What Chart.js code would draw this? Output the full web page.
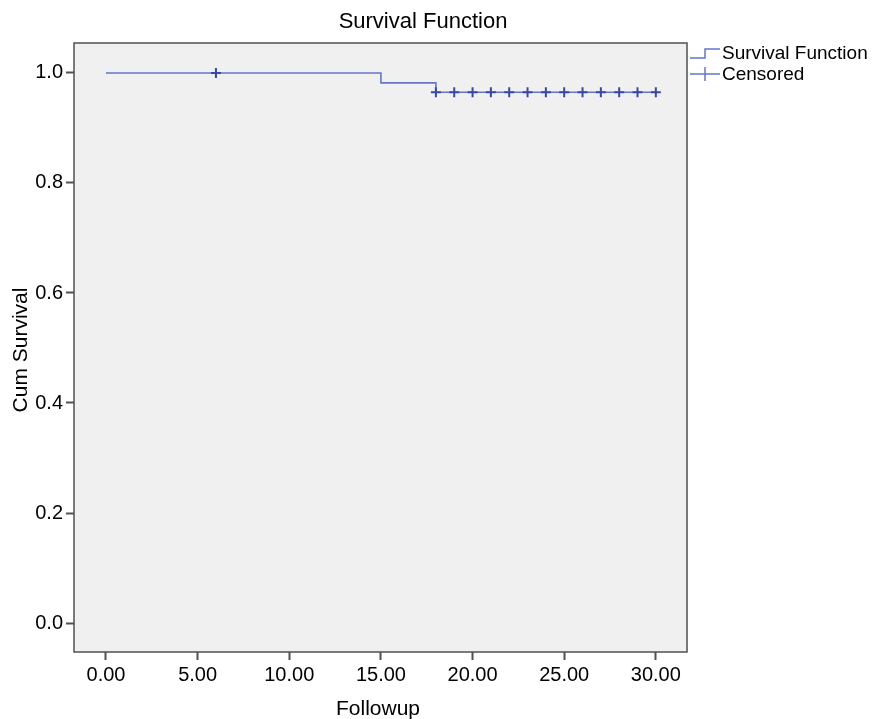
<!DOCTYPE html>
<html>
<head>
<meta charset="utf-8">
<script src="https://cdn.jsdelivr.net/npm/chart.js@4/dist/chart.umd.min.js"></script>
<style>
html,body{margin:0;padding:0;background:#fff;}
#wrap{width:885px;height:719px;position:relative;}
</style>
</head>
<body>
<div id="wrap"><canvas id="c" width="885" height="719"></canvas></div>
<script>
// Data
const survivalTimes = [0, 15, 18, 30];
const survivalValues = [1.0, 0.982, 0.965, 0.965];
const censoredTimes = [6, 18, 19, 20, 21, 22, 23, 24, 25, 26, 27, 28, 29, 30];
const censoredValues = [1.0, 0.965, 0.965, 0.965, 0.965, 0.965, 0.965, 0.965, 0.965, 0.965, 0.965, 0.965, 0.965, 0.965];
const xTicks = [0, 5, 10, 15, 20, 25, 30];
const yTicks = [0.0, 0.2, 0.4, 0.6, 0.8, 1.0];
const titleText = 'Survival Function';
const xTitle = 'Followup';
const yTitle = 'Cum Survival';
const legendLabels = ['Survival Function', 'Censored'];

const lineColor = 'rgb(100,118,200)';
const markColor = 'rgb(55,72,165)';
const FONT = 'Liberation Sans, Arial, sans-serif';

const survivalData = survivalTimes.map((t, i) => ({x: t, y: survivalValues[i]}));
const censoredData = censoredTimes.map((t, i) => ({x: t, y: censoredValues[i]}));

const decor = {
  id: 'decor',
  beforeDraw(chart) {
    const {ctx, chartArea: a} = chart;
    ctx.save();
    ctx.fillStyle = '#f0f0f0';
    ctx.fillRect(a.left, a.top, a.right - a.left, a.bottom - a.top);
    ctx.restore();
  },
  afterDraw(chart) {
    const {ctx, chartArea: a} = chart;
    ctx.save();
    ctx.strokeStyle = '#505050';
    ctx.lineWidth = 1.5;
    ctx.strokeRect(a.left, a.top, a.right - a.left, a.bottom - a.top);
    // title
    ctx.fillStyle = '#000';
    ctx.font = '22px ' + FONT;
    ctx.textAlign = 'center';
    ctx.textBaseline = 'middle';
    ctx.fillText(titleText, 423, 22);
    // x title
    ctx.font = '21px ' + FONT;
    ctx.fillText(xTitle, 378, 709);
    // y title
    ctx.save();
    ctx.translate(21, 350);
    ctx.rotate(-Math.PI / 2);
    ctx.fillText(yTitle, 0, 0);
    ctx.restore();
    // legend
    ctx.strokeStyle = lineColor;
    ctx.lineWidth = 1.5;
    ctx.beginPath();
    ctx.moveTo(690, 58); ctx.lineTo(705, 58); ctx.lineTo(705, 49); ctx.lineTo(720, 49);
    ctx.stroke();
    ctx.beginPath();
    ctx.moveTo(690, 74); ctx.lineTo(720, 74);
    ctx.stroke();
    ctx.beginPath();
    ctx.moveTo(705, 67); ctx.lineTo(705, 81);
    ctx.stroke();
    ctx.fillStyle = '#000';
    ctx.font = '19px ' + FONT;
    ctx.textAlign = 'left';
    ctx.fillText(legendLabels[0], 722, 54);
    ctx.fillText(legendLabels[1], 722, 75);
    ctx.restore();
  }
};

new Chart(document.getElementById('c'), {
  type: 'scatter',
  data: {
    datasets: [
      {
        type: 'line',
        label: legendLabels[0],
        data: survivalData,
        stepped: 'before',
        borderColor: lineColor,
        borderWidth: 1.6,
        pointRadius: 0,
        fill: false,
        order: 2
      },
      {
        type: 'scatter',
        label: legendLabels[1],
        data: censoredData,
        pointStyle: 'cross',
        pointRadius: 5,
        borderColor: markColor,
        backgroundColor: markColor,
        borderWidth: 2,
        order: 1
      }
    ]
  },
  options: {
    responsive: false,
    animation: false,
    layout: {padding: {left: 0, top: 43, right: 198, bottom: 0}},
    plugins: {legend: {display: false}, tooltip: {enabled: false}, title: {display: false}},
    scales: {
      x: {
        type: 'linear',
        min: -1.745,
        max: 31.7,
        afterBuildTicks(s) { s.ticks = xTicks.map(v => ({value: v})); },
        afterFit(s) { s.height = 67; },
        border: {display: false},
        grid: {display: true, drawOnChartArea: false, drawTicks: true, tickLength: 8, tickWidth: 2, tickColor: '#505050'},
        ticks: {color: '#000', font: {size: 20, family: FONT}, padding: 3, maxRotation: 0, callback: v => v.toFixed(2)}
      },
      y: {
        type: 'linear',
        min: -0.0527,
        max: 1.0545,
        afterBuildTicks(s) { s.ticks = yTicks.map(v => ({value: v})); },
        afterFit(s) { s.width = 74; },
        border: {display: false},
        grid: {display: true, drawOnChartArea: false, drawTicks: true, tickLength: 8, tickWidth: 2, tickColor: '#505050'},
        ticks: {color: '#000', font: {size: 20, family: FONT}, padding: 3, callback: v => v.toFixed(1)}
      }
    }
  },
  plugins: [decor]
});
</script>
</body>
</html>
